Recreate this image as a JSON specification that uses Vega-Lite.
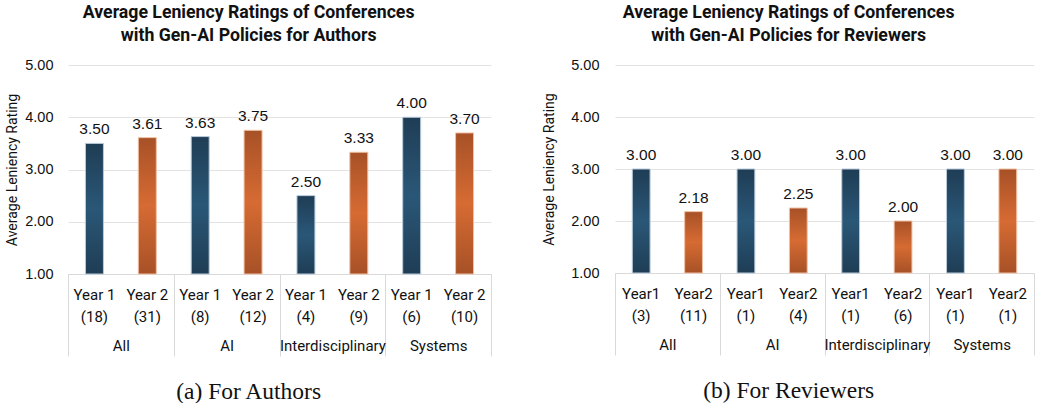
{
  "$schema": "https://vega.github.io/schema/vega-lite/v6.json",
  "padding": {"left": 5, "top": 4, "right": 4, "bottom": 0},
  "spacing": 50,
  "config": {
    "view": {"stroke": null},
    "font": "Liberation Sans",
    "concat": {"spacing": 0}
  },
  "datasets": {
    "authors": [
      {"group": "All", "slot": "All|Year 1|(18)", "year": 1, "rating": 3.50},
      {"group": "All", "slot": "All|Year 2|(31)", "year": 2, "rating": 3.61},
      {"group": "AI", "slot": "AI|Year 1|(8)", "year": 1, "rating": 3.63},
      {"group": "AI", "slot": "AI|Year 2|(12)", "year": 2, "rating": 3.75},
      {"group": "Interdisciplinary", "slot": "Interdisciplinary|Year 1|(4)", "year": 1, "rating": 2.50},
      {"group": "Interdisciplinary", "slot": "Interdisciplinary|Year 2|(9)", "year": 2, "rating": 3.33},
      {"group": "Systems", "slot": "Systems|Year 1|(6)", "year": 1, "rating": 4.00},
      {"group": "Systems", "slot": "Systems|Year 2|(10)", "year": 2, "rating": 3.70}
    ],
    "reviewers": [
      {"group": "All", "slot": "All|Year1|(3)", "year": 1, "rating": 3.00},
      {"group": "All", "slot": "All|Year2|(11)", "year": 2, "rating": 2.18},
      {"group": "AI", "slot": "AI|Year1|(1)", "year": 1, "rating": 3.00},
      {"group": "AI", "slot": "AI|Year2|(4)", "year": 2, "rating": 2.25},
      {"group": "Interdisciplinary", "slot": "Interdisciplinary|Year1|(1)", "year": 1, "rating": 3.00},
      {"group": "Interdisciplinary", "slot": "Interdisciplinary|Year2|(6)", "year": 2, "rating": 2.00},
      {"group": "Systems", "slot": "Systems|Year1|(1)", "year": 1, "rating": 3.00},
      {"group": "Systems", "slot": "Systems|Year2|(1)", "year": 2, "rating": 3.00}
    ]
  },
  "hconcat": [
    {
      "title": {"text": "(a) For Authors", "orient": "bottom", "anchor": "middle", "frame": "bounds", "font": "Liberation Serif", "fontSize": 23.5, "fontWeight": "normal", "color": "#111", "offset": 23},
      "vconcat": [
        {
          "data": {"name": "authors"},
          "width": 423,
          "height": 209,
          "title": {"text": ["Average Leniency Ratings of Conferences", "with Gen-AI Policies for Authors"], "anchor": "middle", "frame": "bounds", "font": "Roboto", "fontSize": 17.7, "fontWeight": "bold", "color": "#111", "lineHeight": 23, "offset": 12},
          "encoding": {
            "y": {"field": "rating", "type": "quantitative",
              "scale": {"domain": [1, 5], "zero": false, "nice": false},
              "axis": {"title": "Average Leniency Rating", "titleFontSize": 14, "titleFont": "Roboto", "titleFontWeight": "normal", "titleColor": "#111", "titlePadding": 5, "values": [1, 2, 3, 4, 5], "format": ".2f", "labelFontSize": 14.5, "labelFont": "Liberation Sans", "labelColor": "#111", "labelPadding": 15, "ticks": false, "domain": false, "gridColor": "#e3e3e3", "gridWidth": 1}}
          },
          "layer": [
            {
              "encoding": {
                "x": {"field": "slot", "type": "nominal", "sort": null,
                  "scale": {"paddingInner": 0.66, "paddingOuter": 0.33},
                  "axis": {"orient": "bottom", "title": null, "labelAngle": 0, "ticks": false, "domain": false, "labelPadding": 13, "labelFontSize": 15, "labelFont": "Roboto", "labelColor": "#111", "labelLineHeight": 22, "labelExpr": "[split(datum.label, '|')[1], split(datum.label, '|')[2]]"}}
              },
              "layer": [
                {
                  "mark": {"type": "bar", "strokeWidth": 1},
                  "encoding": {
                    "y2": {"datum": 1},
                    "color": {
                      "condition": {"test": "datum.year == 1", "value": {"gradient": "linear", "x1": 0, "y1": 0, "x2": 0, "y2": 1, "stops": [{"offset": 0, "color": "#1f3d55"}, {"offset": 0.5, "color": "#2a5777"}, {"offset": 1, "color": "#1f3d55"}]}},
                      "value": {"gradient": "linear", "x1": 0, "y1": 0, "x2": 0, "y2": 1, "stops": [{"offset": 0, "color": "#a75127"}, {"offset": 0.5, "color": "#d66b33"}, {"offset": 1, "color": "#a75127"}]}
                    },
                    "stroke": {"condition": {"test": "datum.year == 1", "value": "#b9cbdb"}, "value": "#f1c0a3"}
                  }
                },
                {
                  "mark": {"type": "text", "dy": -14, "fontSize": 15.5, "color": "#111", "baseline": "middle"},
                  "encoding": {"text": {"field": "rating", "type": "quantitative", "format": ".2f"}}
                }
              ]
            },
            {
              "mark": {"type": "tick", "opacity": 0},
              "encoding": {
                "x": {"field": "group", "type": "nominal", "sort": null,
                  "scale": {"paddingInner": 0, "paddingOuter": 0},
                  "axis": {"orient": "bottom", "title": null, "labelAngle": 0, "tickBand": "extent", "ticks": true, "tickSize": 82, "tickColor": "#d9d9d9", "domain": true, "domainColor": "#d9d9d9", "labelPadding": -18, "labelFontSize": 15, "labelFont": "Roboto", "labelColor": "#111"}}
              }
            }
          ],
          "resolve": {"scale": {"x": "independent"}, "axis": {"x": "independent"}}
        }
      ]
    },
    {
      "title": {"text": "(b) For Reviewers", "orient": "bottom", "anchor": "middle", "frame": "bounds", "font": "Liberation Serif", "fontSize": 23.5, "fontWeight": "normal", "color": "#111", "offset": 23},
      "vconcat": [
        {
          "data": {"name": "reviewers"},
          "width": 419,
          "height": 208,
          "title": {"text": ["Average Leniency Ratings of Conferences", "with Gen-AI Policies for Reviewers"], "anchor": "middle", "frame": "bounds", "font": "Roboto", "fontSize": 17.7, "fontWeight": "bold", "color": "#111", "lineHeight": 23, "offset": 12},
          "encoding": {
            "y": {"field": "rating", "type": "quantitative",
              "scale": {"domain": [1, 5], "zero": false, "nice": false},
              "axis": {"title": "Average Leniency Rating", "titleFontSize": 14, "titleFont": "Roboto", "titleFontWeight": "normal", "titleColor": "#111", "titlePadding": 14, "values": [1, 2, 3, 4, 5], "format": ".2f", "labelFontSize": 14.5, "labelFont": "Liberation Sans", "labelColor": "#111", "labelPadding": 16, "ticks": false, "domain": false, "gridColor": "#e3e3e3", "gridWidth": 1}}
          },
          "layer": [
            {
              "encoding": {
                "x": {"field": "slot", "type": "nominal", "sort": null,
                  "scale": {"paddingInner": 0.66, "paddingOuter": 0.33},
                  "axis": {"orient": "bottom", "title": null, "labelAngle": 0, "ticks": false, "domain": false, "labelPadding": 13, "labelFontSize": 15, "labelFont": "Roboto", "labelColor": "#111", "labelLineHeight": 22, "labelExpr": "[split(datum.label, '|')[1], split(datum.label, '|')[2]]"}}
              },
              "layer": [
                {
                  "mark": {"type": "bar", "strokeWidth": 1},
                  "encoding": {
                    "y2": {"datum": 1},
                    "color": {
                      "condition": {"test": "datum.year == 1", "value": {"gradient": "linear", "x1": 0, "y1": 0, "x2": 0, "y2": 1, "stops": [{"offset": 0, "color": "#1f3d55"}, {"offset": 0.5, "color": "#2a5777"}, {"offset": 1, "color": "#1f3d55"}]}},
                      "value": {"gradient": "linear", "x1": 0, "y1": 0, "x2": 0, "y2": 1, "stops": [{"offset": 0, "color": "#a75127"}, {"offset": 0.5, "color": "#d66b33"}, {"offset": 1, "color": "#a75127"}]}
                    },
                    "stroke": {"condition": {"test": "datum.year == 1", "value": "#b9cbdb"}, "value": "#f1c0a3"}
                  }
                },
                {
                  "mark": {"type": "text", "dy": -14, "fontSize": 15.5, "color": "#111", "baseline": "middle"},
                  "encoding": {"text": {"field": "rating", "type": "quantitative", "format": ".2f"}}
                }
              ]
            },
            {
              "mark": {"type": "tick", "opacity": 0},
              "encoding": {
                "x": {"field": "group", "type": "nominal", "sort": null,
                  "scale": {"paddingInner": 0, "paddingOuter": 0},
                  "axis": {"orient": "bottom", "title": null, "labelAngle": 0, "tickBand": "extent", "ticks": true, "tickSize": 82, "tickColor": "#d9d9d9", "domain": true, "domainColor": "#d9d9d9", "labelPadding": -18, "labelFontSize": 15, "labelFont": "Roboto", "labelColor": "#111"}}
              }
            }
          ],
          "resolve": {"scale": {"x": "independent"}, "axis": {"x": "independent"}}
        }
      ]
    }
  ]
}
